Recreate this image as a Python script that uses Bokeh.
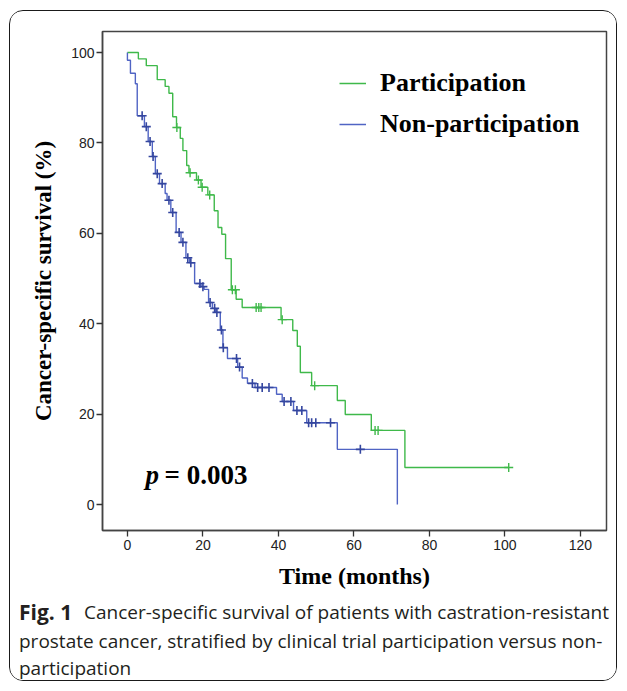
import numpy as np
from bokeh.plotting import figure
from bokeh.layouts import column
from bokeh.models import Range1d, FixedTicker, Legend, LegendItem, Label
from bokeh.core.properties import value
from bokeh.embed import file_html
from bokeh.resources import INLINE

# ---- data ----
series_names = ["Participation", "Non-participation"]

part_times = [2.9, 5.0, 7.9, 10.0, 11.0, 12.0, 13.0, 14.0, 14.7, 15.7, 16.3, 18.3, 19.5,
              21.3, 23.0, 24.0, 25.0, 26.0, 27.5, 28.8, 30.4, 40.7, 43.8, 45.0, 45.8,
              48.8, 55.6, 57.7, 64.6, 73.5]
part_surv = [98.6, 97.1, 94.0, 92.5, 91.0, 85.8, 83.4, 81.0, 78.3, 75.0, 73.4, 71.8, 70.2,
             68.5, 65.0, 61.3, 59.8, 54.4, 47.5, 45.4, 43.6, 40.9, 38.5, 35.0, 29.2,
             26.3, 23.0, 19.9, 16.4, 8.2]
part_censor = [13.1, 16.6, 18.8, 19.8, 21.8, 27.8, 28.6, 34.1, 34.8, 35.4, 41.0, 49.6,
               65.6, 66.4, 101.0]

non_times = [0.0, 0.8, 2.1, 2.6, 4.5, 5.5, 6.6, 7.4, 8.5, 10.0, 10.5, 11.5, 12.9, 14.2,
             15.5, 16.5, 17.8, 19.5, 20.3, 21.5, 22.5, 23.4, 24.6, 25.3, 26.5, 29.2,
             30.4, 31.8, 33.8, 39.5, 41.0, 44.0, 47.5, 55.6, 71.5]
non_surv = [98.3, 95.4, 93.1, 86.0, 83.6, 80.3, 77.0, 73.2, 71.0, 68.8, 67.3, 64.6, 60.2,
            58.0, 54.6, 53.5, 48.9, 48.2, 47.6, 44.7, 43.4, 42.5, 38.6, 34.7, 32.3, 30.4,
            28.0, 26.8, 25.9, 24.4, 22.8, 20.8, 18.1, 12.2, 0.0]
non_censor = [3.9, 5.0, 6.0, 6.8, 7.9, 9.2, 11.0, 12.0, 13.7, 14.7, 16.0, 16.8, 19.2, 20.0,
              21.9, 23.1, 23.7, 24.9, 25.4, 28.9, 29.7, 33.1, 34.5, 35.7, 37.5, 41.5,
              43.3, 44.9, 46.2, 48.0, 48.8, 49.9, 53.8, 61.7]

x_ticks = [0, 20, 40, 60, 80, 100, 120]
y_ticks = [0, 20, 40, 60, 80, 100]
p_text = "= 0.003"
caption_bold = "Fig. 1"
caption_lines = ["Cancer-specific survival of patients with castration-resistant",
                 "prostate cancer, stratified by clinical trial participation versus non-",
                 "participation"]

GREEN = "#3fb94a"
BLUE = "#5064c4"
BLUE_MARK = "#34469f"
CAP_COLOR = "#231f20"


def km_path(times, surv, censor):
    t = np.asarray(times, float)
    s = np.asarray(surv, float)
    end = max(t.max(), max(censor))
    xs = np.concatenate([[0.0], t, [end]])
    ys = np.concatenate([[100.0], s, [s[-1]]])
    return xs, ys


def surv_at(times, surv, c):
    t = np.asarray(times, float)
    s = np.concatenate([[100.0], np.asarray(surv, float)])
    idx = np.searchsorted(t, np.asarray(c, float), side="right")
    return s[idx]


CW = 606          # content width inside the rounded box
H1, H2 = 586, 83  # chart height, caption height

p = figure(width=CW, height=H1, title=None,
           x_range=Range1d(-6.6, 126.9), y_range=Range1d(-5.75, 104.65),
           output_backend="svg", toolbar_location=None,
           min_border_left=92, min_border_right=10, min_border_top=20, min_border_bottom=67)
p.frame_align = False
p.xgrid.visible = False
p.ygrid.visible = False
p.outline_line_color = "#444444"
p.outline_line_width = 1.5
p.background_fill_color = "white"
p.border_fill_color = "white"

gx, gy = km_path(part_times, part_surv, part_censor)
bx, by = km_path(non_times, non_surv, non_censor)

g_line = p.step(gx, gy, mode="after", line_color=GREEN, line_width=1.4)
b_line = p.step(bx, by, mode="after", line_color=BLUE, line_width=1.4)
p.scatter(part_censor, surv_at(part_times, part_surv, part_censor), marker="cross",
          size=9, line_color=GREEN, line_width=1.4)
p.scatter(non_censor, surv_at(non_times, non_surv, non_censor), marker="cross",
          size=9, line_color=BLUE_MARK, line_width=1.6)

for ax in (p.xaxis[0], p.yaxis[0]):
    ax.axis_line_color = "#444444"
    ax.axis_line_width = 1.5
    ax.major_tick_line_color = "#333333"
    ax.major_tick_line_width = 1.3
    ax.major_tick_out = 6
    ax.major_tick_in = 0
    ax.minor_tick_line_color = None
    ax.major_label_text_font = "Liberation Sans"
    ax.major_label_text_font_size = "14px"
    ax.major_label_text_color = "#222222"
    ax.axis_label_text_font = "Liberation Serif"
    ax.axis_label_text_font_style = "bold"
    ax.axis_label_text_color = "black"

p.xaxis[0].ticker = FixedTicker(ticks=x_ticks)
p.yaxis[0].ticker = FixedTicker(ticks=y_ticks)
p.xaxis[0].axis_label = "Time (months)"
p.yaxis[0].axis_label = "Cancer-specific survival (%)"
p.xaxis[0].axis_label_text_font_size = "24px"
p.yaxis[0].axis_label_text_font_size = "23px"
p.xaxis[0].major_label_standoff = 3
p.yaxis[0].major_label_standoff = 2
p.xaxis[0].axis_label_standoff = 10
p.yaxis[0].axis_label_standoff = 12

legend = Legend(items=[LegendItem(label=series_names[0], renderers=[g_line]),
                       LegendItem(label=series_names[1], renderers=[b_line])],
                location=(237, 391))
legend.label_text_font = "Liberation Serif"
legend.label_text_font_style = "bold"
legend.label_text_font_size = "26px"
legend.label_text_color = "black"
legend.glyph_width = 27
legend.glyph_height = 26
legend.label_height = 26
legend.spacing = 11
legend.padding = 0
legend.margin = 0
legend.label_standoff = 14
legend.border_line_color = None
legend.background_fill_alpha = 0
p.add_layout(legend, "center")

p.add_layout(Label(x=43, y=56, x_units="screen", y_units="screen", text="p",
                   text_font="Liberation Serif", text_font_style="bold italic",
                   text_font_size="27px", text_baseline="middle", text_color="black"))
p.add_layout(Label(x=62, y=56, x_units="screen", y_units="screen", text=p_text,
                   text_font="Liberation Serif", text_font_style="bold",
                   text_font_size="27px", text_baseline="middle", text_color="black"))

# ---- caption panel ----
cap = figure(width=CW, height=H2, title=None, x_range=Range1d(0, CW), y_range=Range1d(H2, 0),
             x_axis_type=None, y_axis_type=None, output_backend="svg", toolbar_location=None,
             min_border=0, min_border_left=0, min_border_right=0,
             min_border_top=0, min_border_bottom=0)
cap.frame_align = False
cap.xgrid.visible = False
cap.ygrid.visible = False
cap.outline_line_color = None
cap.background_fill_color = "white"
cap.border_fill_color = "white"

cap_font = value("Open Sans")
cap_size = "19px"
cap_x0, cap_x1 = 8.5, 73.5
cap_y = [14.0, 43.0, 70.5]
cap.text(x=[cap_x0], y=[cap_y[0]], text=[caption_bold], text_font=cap_font,
         text_font_style="bold", text_font_size="21px", text_baseline="middle",
         text_color=CAP_COLOR)
cap.text(x=[cap_x1, cap_x0, cap_x0], y=cap_y, text=caption_lines, text_font=cap_font,
         text_font_size=cap_size, text_baseline="middle", text_color=CAP_COLOR)

layout = column(p, cap, spacing=0,
                styles={"margin-left": "9px", "margin-top": "10px",
                        "border": "1.5px solid #1a1a1a", "border-radius": "14px",
                        "overflow": "hidden", "background": "white"})

open("out.html", "w").write(file_html(layout, INLINE))
